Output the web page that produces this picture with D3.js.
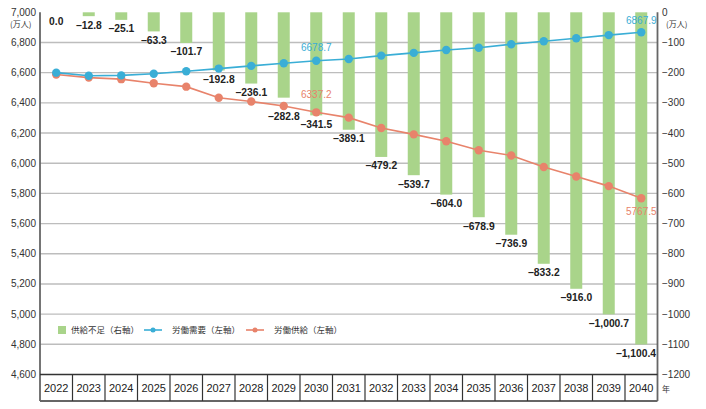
<!DOCTYPE html>
<html>
<head>
<meta charset="utf-8">
<script src="https://cdn.jsdelivr.net/npm/d3@7"></script>
<style>
body { margin: 0; background: #fff; }
text { font-family: "Liberation Sans", Arial, "Noto Sans CJK JP", sans-serif; }
.jp { font-family: "Noto Sans CJK JP", sans-serif; }
</style>
</head>
<body>
<div id="viz"></div>
<script>
var years = ["2022","2023","2024","2025","2026","2027","2028","2029","2030","2031",
             "2032","2033","2034","2035","2036","2037","2038","2039","2040"];
var shortage = [0.0, -12.8, -25.1, -63.3, -101.7, -192.8, -236.1, -282.8, -341.5, -389.1,
                -479.2, -539.7, -604.0, -678.9, -736.9, -833.2, -916.0, -1000.7, -1100.4];
var demand = [6600, 6580, 6582, 6593, 6609, 6627, 6645, 6662, 6678.7, 6691,
              6713, 6731, 6750, 6765, 6788, 6808, 6828, 6849, 6867.9];
var supply = [6588, 6567.2, 6556.9, 6529.7, 6507.3, 6434.2, 6408.9, 6379.2, 6337.2, 6301.9,
              6233.8, 6191.3, 6146, 6086.1, 6051.1, 5974.8, 5912, 5848.3, 5767.5];
var leftTicks = d3.range(4600, 7001, 200);
var rightTicks = d3.range(-1200, 1, 100);

var W = 706, H = 409;
var blue = "#3aaed6", orange = "#e8836b", green = "#a9d48a";

var svg = d3.select("#viz").append("svg")
    .attr("width", W).attr("height", H);

var x = d3.scaleBand().domain(years).range([40, 657.5]).padding(0);
var yL = d3.scaleLinear().domain([4600, 7000]).range([374.5, 12.3]);
var yR = d3.scaleLinear().domain([-1200, 0]).range([374.5, 12.3]);
var cx = function(i) { return x(years[i]) + x.bandwidth() / 2; };

// grid
svg.append("g").selectAll("line")
    .data(leftTicks.filter(function(d) { return d > 4600 && d < 7000; }))
    .enter().append("line")
    .attr("x1", 40).attr("x2", 657.5)
    .attr("y1", function(d) { return yL(d); })
    .attr("y2", function(d) { return yL(d); })
    .style("stroke", "#bdbdbd").style("stroke-width", 1.4);

// bars
svg.append("g").selectAll("rect")
    .data(shortage)
    .enter().append("rect")
    .attr("x", function(d, i) { return cx(i) - 6; })
    .attr("width", 12)
    .attr("y", yR(0))
    .attr("height", function(d) { return yR(d) - yR(0); })
    .style("fill", green);

// lines
function drawLine(vals, color) {
    var line = d3.line()
        .x(function(d, i) { return cx(i); })
        .y(function(d) { return yL(d); });
    svg.append("path").datum(vals)
        .attr("d", line)
        .style("fill", "none").style("stroke", color).style("stroke-width", 1.6);
    svg.append("g").selectAll("circle")
        .data(vals).enter().append("circle")
        .attr("cx", function(d, i) { return cx(i); })
        .attr("cy", function(d) { return yL(d); })
        .attr("r", 4.2)
        .style("fill", color);
}
drawLine(supply, orange);
drawLine(demand, blue);

// bar labels (2029 pushed under the supply line, 2040 kept inside the frame)
var fmt = function(d) {
    var s = d3.format(",.1f")(Math.abs(d));
    return (d < 0 ? "\u2212" : "") + s;
};
var last = shortage.length - 1;
svg.append("g").selectAll("text")
    .data(shortage)
    .enter().append("text")
    .attr("x", function(d, i) { return i === last ? 656 : cx(i); })
    .attr("y", function(d, i) { return yR(d) + (i === 7 ? 22 : 12.5); })
    .attr("text-anchor", function(d, i) { return i === last ? "end" : "middle"; })
    .style("font-size", "10.3px").style("font-weight", "bold").style("fill", "#222")
    .text(fmt);

// value labels
svg.append("text").attr("x", cx(8)).attr("y", yL(demand[8]) - 10)
    .attr("text-anchor", "middle").style("font-size", "10px").style("fill", blue)
    .text(demand[8].toFixed(1));
svg.append("text").attr("x", cx(8)).attr("y", yL(supply[8]) - 14)
    .attr("text-anchor", "middle").style("font-size", "10px").style("fill", orange)
    .text(supply[8].toFixed(1));
svg.append("text").attr("x", cx(18)).attr("y", yL(demand[18]) - 8)
    .attr("text-anchor", "middle").style("font-size", "10px").style("fill", blue)
    .text(demand[18].toFixed(1));
svg.append("text").attr("x", cx(18)).attr("y", yL(supply[18]) + 17)
    .attr("text-anchor", "middle").style("font-size", "10px").style("fill", orange)
    .text(supply[18].toFixed(1));

// left axis
svg.append("g").selectAll("text")
    .data(leftTicks).enter().append("text")
    .attr("x", 36)
    .attr("y", function(d) { return yL(d) + 3.5; })
    .attr("text-anchor", "end")
    .style("font-size", "10px").style("fill", "#333")
    .text(function(d) { return d3.format(",")(d); });
svg.append("text").attr("class", "jp").attr("x", 10).attr("y", 27)
    .style("font-size", "8px").style("fill", "#333").text("(万人)");

// right axis
svg.append("g").selectAll("text")
    .data(rightTicks).enter().append("text")
    .attr("x", 662)
    .attr("y", function(d) { return yR(d) + 3.5; })
    .style("font-size", "10px").style("fill", "#333")
    .text(function(d) { return d === 0 ? "0" : "\u2212" + Math.abs(d); });
svg.append("text").attr("class", "jp").attr("x", 666).attr("y", 27)
    .style("font-size", "8px").style("fill", "#333").text("(万人)");

// axis lines
svg.append("line").attr("x1", 40).attr("x2", 40).attr("y1", 12.3).attr("y2", 401)
    .style("stroke", "#666").style("stroke-width", 1.8);
svg.append("line").attr("x1", 657.5).attr("x2", 657.5).attr("y1", 12.3).attr("y2", 401)
    .style("stroke", "#666").style("stroke-width", 1.8);

// year table
var table = svg.append("g");
table.append("line").attr("x1", 40).attr("x2", 657.5).attr("y1", 374.5).attr("y2", 374.5)
    .style("stroke", "#333").style("stroke-width", 1.4);
table.append("line").attr("x1", 40).attr("x2", 657.5).attr("y1", 401).attr("y2", 401)
    .style("stroke", "#666").style("stroke-width", 1.8);
table.selectAll(".sep").data(years.slice(1)).enter().append("line")
    .attr("x1", function(d) { return x(d); }).attr("x2", function(d) { return x(d); })
    .attr("y1", 374.5).attr("y2", 401)
    .style("stroke", "#333").style("stroke-width", 1.2);
table.selectAll(".yr").data(years).enter().append("text")
    .attr("x", function(d) { return x(d) + x.bandwidth() / 2; })
    .attr("y", 392)
    .attr("text-anchor", "middle")
    .style("font-size", "11px").style("fill", "#222")
    .text(function(d) { return d; });
svg.append("text").attr("class", "jp").attr("x", 662).attr("y", 392)
    .style("font-size", "8px").style("fill", "#333").text("年");

// legend
var lg = svg.append("g").attr("transform", "translate(0,330)");
lg.append("rect").attr("x", 58).attr("y", -4).attr("width", 8).attr("height", 8).style("fill", green);
lg.append("text").attr("class", "jp").attr("x", 71).attr("y", 3)
    .style("font-size", "8.5px").style("fill", "#333").text("供給不足（右軸）");
[[blue, 144, "労働需要（左軸）"], [orange, 246, "労働供給（左軸）"]].forEach(function(l) {
    lg.append("line").attr("x1", l[1]).attr("x2", l[1] + 18).attr("y1", 0).attr("y2", 0)
        .style("stroke", l[0]).style("stroke-width", 1.6);
    lg.append("circle").attr("cx", l[1] + 9).attr("cy", 0).attr("r", 2.5).style("fill", l[0]);
    lg.append("text").attr("class", "jp").attr("x", l[1] + 28).attr("y", 3)
        .style("font-size", "8.5px").style("fill", "#333").text(l[2]);
});
</script>
</body>
</html>
